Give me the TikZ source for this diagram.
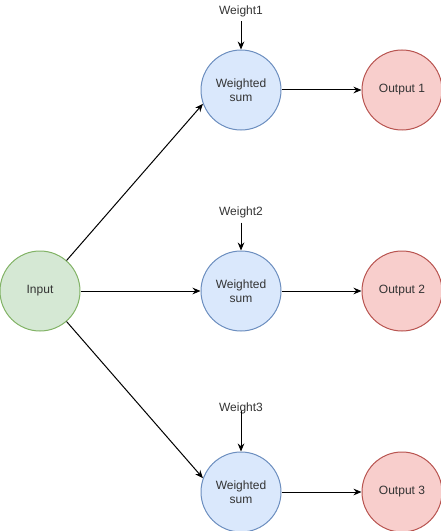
\documentclass[tikz,border=0pt]{standalone}
\usepackage{fontspec}
\setmainfont{Liberation Sans}
\usetikzlibrary{arrows.meta,positioning}
\definecolor{grfill}{HTML}{D5E8D4}
\definecolor{grline}{HTML}{82B366}
\definecolor{blfill}{HTML}{DAE8FC}
\definecolor{blline}{HTML}{6C8EBF}
\definecolor{rdfill}{HTML}{F8CECC}
\definecolor{rdline}{HTML}{B85450}
\definecolor{txt}{HTML}{333333}
\tikzset{
  unit/.style={circle, minimum size=60pt, inner sep=0pt, align=center, line width=0.75pt, text=txt},
  innode/.style={unit, draw=grline, fill=grfill},
  sumnode/.style={unit, draw=blline, fill=blfill},
  outnode/.style={unit, draw=rdline, fill=rdfill},
  wlabel/.style={inner sep=3pt, text=txt}
}

\begin{document}
\begin{tikzpicture}[>={Stealth[length=6pt,width=5pt]}, font=\fontsize{9pt}{10.5pt}\selectfont, line width=0.75pt]
  \useasboundingbox (0,0) rectangle (330.75pt,-398.25pt);
  \node (in) [innode] at (30pt,-218.25pt) {Input};
  \node (w2) [sumnode, right=90pt of in] {Weighted\\sum};
  \node (w1) [sumnode, above=90pt of w2] {Weighted\\sum};
  \node (w3) [sumnode, below=90pt of w2] {Weighted\\sum};
  \node (o1) [outnode, right=60pt of w1] {Output 1};
  \node (o2) [outnode, right=60pt of w2] {Output 2};
  \node (o3) [outnode, right=60pt of w3] {Output 3};
  \node (wt1) [wlabel, above=21pt of w1] {Weight1};
  \node (wt2) [wlabel, above=21pt of w2] {Weight2};
  \node (wt3) [wlabel, above=25pt of w3] {Weight3};
  \draw[->] (in) -- (w1.200);
  \draw[->] (in) -- (w2);
  \draw[->] (in) -- (w3.160);
  \draw[->] (w1) -- (o1);
  \draw[->] (w2) -- (o2);
  \draw[->] (w3) -- (o3);
  \draw[->] (wt1) -- (w1);
  \draw[->] (wt2) -- (w2);
  \draw[->] (wt3.base) -- (w3);
\end{tikzpicture}
\end{document}
